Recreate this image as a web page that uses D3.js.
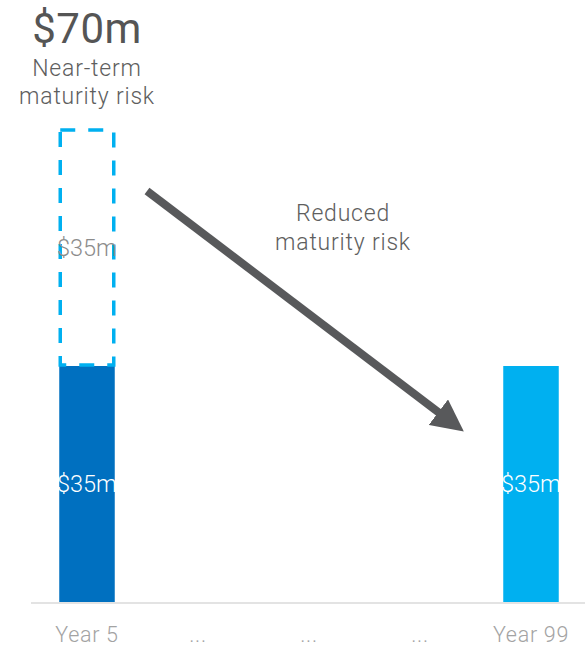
<!DOCTYPE html>
<html>
<head>
<meta charset="utf-8">
<script src="https://cdn.jsdelivr.net/npm/d3@7"></script>
<style>
  body { margin: 0; background: #fff; }
  svg { display: block; font-family: Roboto, "Noto Sans", sans-serif; }
</style>
</head>
<body>
<svg id="chart" width="585" height="648"></svg>
<script>
// categories on the x axis
const categories = ['Year 5', '...', '...', '...', 'Year 99'];
const keys = ['y5', 'd1', 'd2', 'd3', 'y99'];
// solid bars ($m)
const solidValues = [35, 0, 0, 0, 35];
// dashed "at risk" portion stacked on top of year 5
const dashedValues = [35, 0, 0, 0, 0];
const barColors = ['#0070c0', null, null, null, '#00b0f0'];

const svg = d3.select('#chart');
const baseY = 602;

const x = d3.scaleBand()
  .domain(keys)
  .range([31.5, 586.5])
  .paddingInner(0.5)
  .paddingOuter(0.25);

const y = d3.scaleLinear()
  .domain([0, 70])
  .range([baseY, 130]);

// baseline
svg.append('line')
  .attr('x1', 31).attr('x2', 585)
  .attr('y1', baseY + 1).attr('y2', baseY + 1)
  .attr('stroke', '#e3e3e3')
  .attr('stroke-width', 2);

// solid bars
keys.forEach(function(k, i) {
  if (!solidValues[i]) return;
  svg.append('rect')
    .attr('x', x(k))
    .attr('width', x.bandwidth())
    .attr('y', y(solidValues[i]))
    .attr('height', y(0) - y(solidValues[i]))
    .attr('fill', barColors[i]);
  svg.append('text')
    .attr('x', x(k) + x.bandwidth() / 2)
    .attr('y', y(solidValues[i] / 2) + 8)
    .attr('text-anchor', 'middle')
    .attr('font-size', 23.5)
    .attr('font-weight', 300)
    .attr('fill', '#fff')
    .text('$' + solidValues[i] + 'm');
});

// dashed bars
keys.forEach(function(k, i) {
  if (!dashedValues[i]) return;
  const top = y(solidValues[i] + dashedValues[i]);
  const bot = y(solidValues[i]);
  svg.append('rect')
    .attr('x', x(k) + 1)
    .attr('width', x.bandwidth() - 2)
    .attr('y', top)
    .attr('height', bot - top - 1)
    .attr('fill', 'none')
    .attr('stroke', '#00b0f0')
    .attr('stroke-width', 3.5)
    .attr('stroke-dasharray', '15,13');
  svg.append('text')
    .attr('x', x(k) + x.bandwidth() / 2)
    .attr('y', (top + bot) / 2 + 8)
    .attr('text-anchor', 'middle')
    .attr('font-size', 23.5)
    .attr('font-weight', 300)
    .attr('fill', '#8c8c8c')
    .text('$' + dashedValues[i] + 'm');
});

// x axis labels
const xAxis = d3.axisBottom(x)
  .tickSize(0)
  .tickFormat(function(d, i) { return categories[i]; });
const gx = svg.append('g')
  .attr('transform', 'translate(0,' + baseY + ')')
  .call(xAxis);
gx.select('.domain').remove();
gx.selectAll('text')
  .attr('dy', 0)
  .attr('y', 40)
  .attr('font-size', 21.5)
  .attr('font-weight', 300)
  .attr('letter-spacing', 0.7)
  .attr('font-family', 'Roboto, sans-serif')
  .attr('fill', '#a3a3a3');

// total label above year 5
const cx = x('y5') + x.bandwidth() / 2;
svg.append('text')
  .attr('x', cx).attr('y', 43)
  .attr('text-anchor', 'middle')
  .attr('font-size', 42)
  .attr('letter-spacing', 0.5)
  .attr('fill', '#555')
  .text('$70m');

const annot = [
  { x: cx, y: 76, t: 'Near-term' },
  { x: cx, y: 104, t: 'maturity risk' },
  { x: 343, y: 221, t: 'Reduced' },
  { x: 343, y: 250, t: 'maturity risk' }
];
svg.selectAll('text.annot')
  .data(annot)
  .join('text')
  .attr('class', 'annot')
  .attr('x', function(d) { return d.x; })
  .attr('y', function(d) { return d.y; })
  .attr('text-anchor', 'middle')
  .attr('font-size', 23)
  .attr('font-weight', 300)
  .attr('letter-spacing', 0.8)
  .attr('fill', '#5e5e5e')
  .text(function(d) { return d.t; });

// arrow
const defs = svg.append('defs');
defs.append('marker')
  .attr('id', 'head')
  .attr('viewBox', '0 0 10 10')
  .attr('refX', 3).attr('refY', 5)
  .attr('markerWidth', 4).attr('markerHeight', 4)
  .attr('orient', 'auto')
  .append('path')
  .attr('d', 'M0,0 L10,5 L0,10 Z')
  .attr('fill', '#58595b');

svg.append('line')
  .attr('x1', 147).attr('y1', 191)
  .attr('x2', 446).attr('y2', 418)
  .attr('stroke', '#58595b')
  .attr('stroke-width', 8)
  .attr('marker-end', 'url(#head)');
</script>
</body>
</html>
